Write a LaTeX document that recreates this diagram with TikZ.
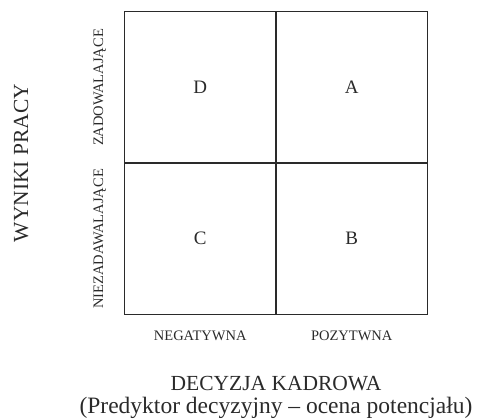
\documentclass[tikz,border=0pt]{standalone}
\usepackage{fontspec}
\setmainfont{Liberation Serif}
\definecolor{txt}{HTML}{2A2A2A}
\definecolor{edge}{HTML}{2A2A2A}
\begin{document}
\begin{tikzpicture}[x=1pt,y=-1pt,
  lbl/.style={inner sep=0pt, text=txt, anchor=base},
  quadlbl/.style={lbl, font=\fontsize{19}{22}\selectfont},
  small/.style={lbl, font=\fontsize{14.5}{17}\selectfont},
  big/.style={lbl, font=\fontsize{21.5}{25}\selectfont},
  grid/.style={draw=edge, line width=1.1pt}]
\useasboundingbox (0,0) rectangle (479,419);
% matrix frame
\coordinate (nw) at (124.5,11.5);
\coordinate (se) at (427.5,314.5);
\coordinate (tm) at (276,11.5);
\coordinate (bm) at (276,314.5);
\coordinate (lm) at (124.5,163);
\coordinate (rm) at (427.5,163);
\draw[grid] (nw) rectangle (se);
\draw[grid] (tm) -- (bm);
\draw[grid] (lm) -- (rm);
% quadrant letters
\node[quadlbl] (D) at (200.25,93.5) {D};
\node[quadlbl] (A) at (351.75,93.5) {A};
\node[quadlbl] (C) at (200.25,245) {C};
\node[quadlbl] (B) at (351.75,245) {B};
% vertical axis
\node[big, rotate=90] (wyniki) at (28,163) {WYNIKI PRACY};
\node[small, rotate=90] (zad) at (103,87.5) {ZADOWALAJĄCE};
\node[small, rotate=90] (niezad) at (103,239) {NIEZADAWALAJĄCE};
% horizontal axis
\node[small] (neg) at (200.25,341) {NEGATYWNA};
\node[small] (poz) at (351.75,341) {POZYTWNA};
\node[big] (dec) at (276,390) {DECYZJA KADROWA};
\node[lbl, font=\fontsize{23.5}{27}\selectfont] (pred) at (276,413) {(Predyktor decyzyjny – ocena potencjału)};
\end{tikzpicture}
\end{document}
